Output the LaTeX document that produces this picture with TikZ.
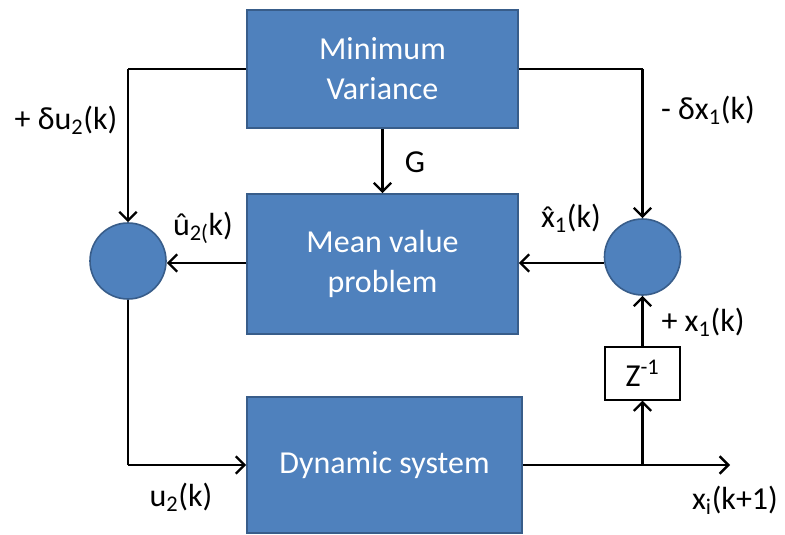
\documentclass[tikz,border=0pt]{standalone}
\usepackage{fontspec}
\setmainfont{Carlito}
\usetikzlibrary{arrows.meta}
\definecolor{boxblue}{HTML}{4F81BD}
\definecolor{boxedge}{HTML}{385D8A}
\newcommand{\xhatglyph}{\ooalign{x\cr\hidewidth\raisebox{-0.04em}{ˆ}\hidewidth\cr}}
\begin{document}
\begin{tikzpicture}[x=0.75pt,y=-0.75pt,
  blk/.style={draw=boxedge,line width=1.2pt,fill=boxblue,text=white,align=center,
    font=\fontsize{24}{30}\selectfont,inner sep=0pt},
  sumc/.style={circle,draw=boxedge,line width=1.2pt,fill=boxblue,minimum size=57pt,inner sep=0pt},
  zbox/.style={draw=black,line width=0.8pt,fill=white,minimum width=56.25pt,minimum height=39.75pt,
    font=\fontsize{24}{30}\selectfont,inner sep=0pt},
  lbl/.style={font=\fontsize{24}{30}\selectfont,inner sep=0pt},
  wire/.style={line width=1.8pt},
  arr/.style={line width=1.8pt,-{Straight Barb[length=6.5pt,width=13pt,line width=1.8pt]}}]
\useasboundingbox (0,0) rectangle (785,535);
\fill[white] (0,0) rectangle (785,535);
% blocks
\node[blk,minimum width=203.25pt,minimum height=88.5pt] (mv) at (382.5,69) {Minimum\\Variance};
\node[blk,minimum width=203.25pt,minimum height=105pt] (mvp) at (382.5,264) {Mean value\\problem};
\node[blk,minimum width=206.25pt,minimum height=102pt] (ds) at (384.5,465) {Dynamic system};
\node[sumc] (lc) at (128,261) {};
\node[sumc] (rc) at (642.5,257) {};
\node[zbox] (z) at (642.5,373.5) {Z\textsuperscript{-1}};
\coordinate (lt) at (128,69);
\coordinate (rt) at (642.5,69);
\coordinate (lb) at (128,465);
\coordinate (br) at (642.5,465);
\coordinate (out) at (730,465);
% connectors
\draw[wire] (mv.west |- lt) -- (lt);
\draw[arr] (lt) -- (lc.north);
\draw[wire] (mv.east |- rt) -- (rt);
\draw[arr] (rt) -- (rc.north);
\draw[arr] (mv.south) -- (mvp.north);
\draw[arr] (mvp.west |- 0,263) -- (lc.east |- 0,263);
\draw[arr] (rc.west |- 0,263) -- (mvp.east |- 0,263);
\draw[wire] (lc.south) -- (lb);
\draw[arr] (lb) -- (ds.west |- lb);
\draw[arr] (ds.east |- out) -- (out);
\draw[arr] (br) -- (z.south);
\draw[arr] (z.north) -- (rc.south);
% labels
\node[lbl] (l1) at (66,120) {+ δu\textsubscript{2}(k)};
\node[lbl] (l2) at (708,110) {- δx\textsubscript{1}(k)};
\node[lbl] (l3) at (415,162) {G};
\node[lbl] (l4) at (203,228) {û\textsubscript{2(}k)};
\node[lbl] (l5) at (571,218) {\xhatglyph\textsubscript{1}(k)};
\node[lbl] (l6) at (703,322) {+ x\textsubscript{1}(k)};
\node[lbl] (l7) at (181,497) {u\textsubscript{2}(k)};
\node[lbl] (l8) at (735,500) {x\textsubscript{i}(k+1)};
\end{tikzpicture}
\end{document}
